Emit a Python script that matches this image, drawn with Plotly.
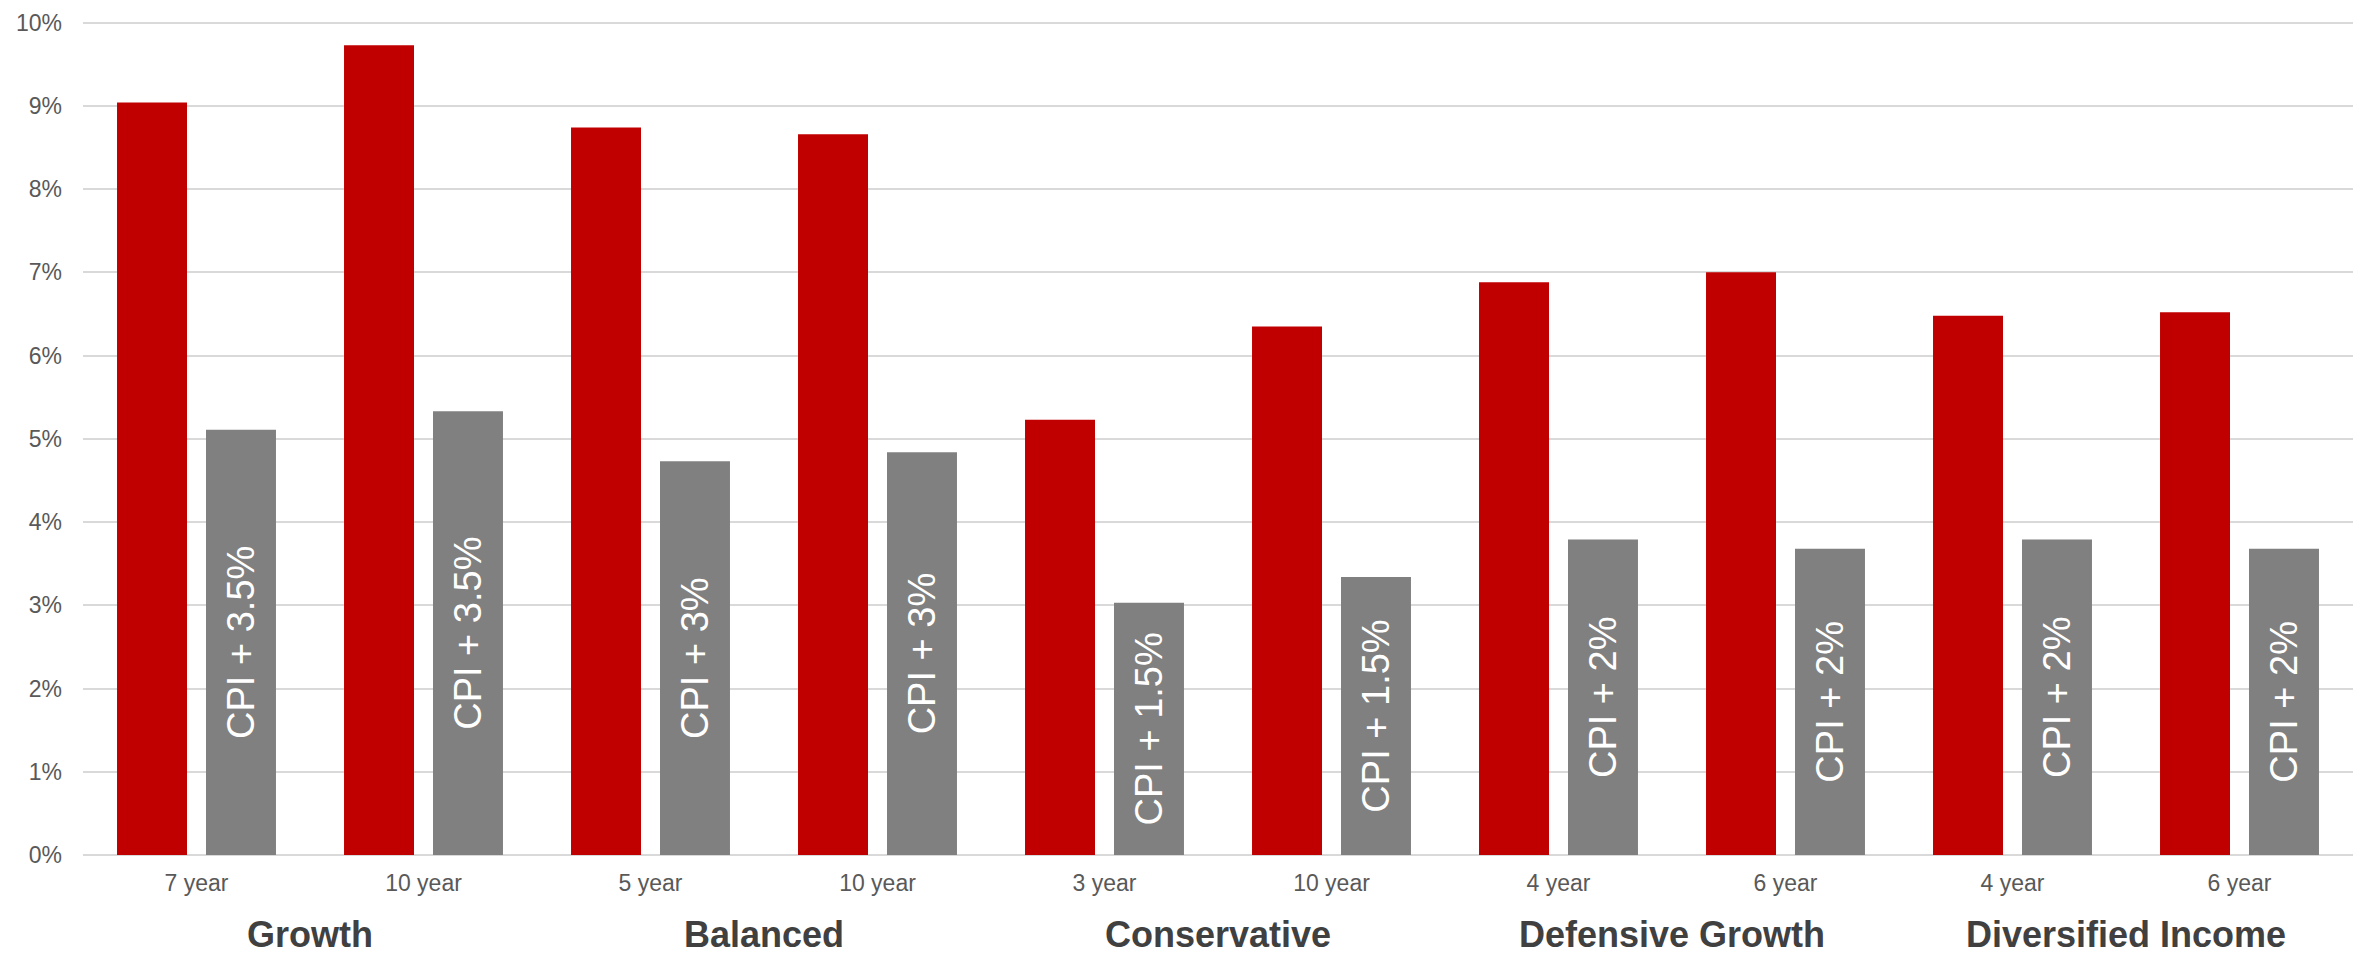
import plotly.graph_objects as go

# Portfolio groups and the horizon shown under each pair of bars
groups = ["Growth", "Balanced", "Conservative", "Defensive Growth", "Diversified Income"]
horizons = ["7 year", "10 year", "5 year", "10 year", "3 year",
            "10 year", "4 year", "6 year", "4 year", "6 year"]

# Annualised returns (fraction) per horizon
returns = [0.0904, 0.0973, 0.0874, 0.0866, 0.0523,
           0.0635, 0.0688, 0.0700, 0.0648, 0.0652]
# CPI-plus objective (fraction) per horizon
objectives = [0.0511, 0.0533, 0.0473, 0.0484, 0.0303,
              0.0334, 0.0379, 0.0368, 0.0379, 0.0368]
objective_labels = ["CPI + 3.5%", "CPI + 3.5%", "CPI + 3%", "CPI + 3%", "CPI + 1.5%",
                    "CPI + 1.5%", "CPI + 2%", "CPI + 2%", "CPI + 2%", "CPI + 2%"]

FONT = "Liberation Sans, Arial, sans-serif"
x = list(range(len(horizons)))

fig = go.Figure()
fig.add_trace(go.Bar(
    x=x, y=returns, name="Return",
    marker=dict(color="#C00000", line=dict(width=0)),
    hoverinfo="skip",
))
fig.add_trace(go.Bar(
    x=x, y=objectives, name="Objective",
    marker=dict(color="#808080", line=dict(width=0)),
    text=objective_labels,
    textposition="inside",
    insidetextanchor="middle",
    textangle=-90,
    constraintext="none",
    textfont=dict(family=FONT, size=38, color="white"),
    hoverinfo="skip",
))

# Group names centred under each pair of horizons
for i, g in enumerate(groups):
    fig.add_annotation(
        x=2 * i + 0.5, xref="x",
        y=-0.095, yref="paper",
        text=f"<b>{g}</b>", showarrow=False,
        xanchor="center", yanchor="middle", borderpad=0,
        font=dict(family=FONT, size=36, color="#404040"),
    )

fig.update_layout(
    width=2361, height=955,
    margin=dict(l=83, r=8, t=21, b=100),
    paper_bgcolor="white", plot_bgcolor="white",
    barmode="group", bargap=0.216, bargroupgap=0.2135,
    showlegend=False,
    font=dict(family=FONT, color="#595959"),
    xaxis=dict(
        tickmode="array", tickvals=x, ticktext=horizons,
        range=[-0.5, len(horizons) - 0.5],
        showgrid=False, showline=False, zeroline=False,
        ticks="", ticklabelstandoff=12,
        tickfont=dict(family=FONT, size=23, color="#595959"),
    ),
    yaxis=dict(
        range=[0, 0.1002], dtick=0.01, tickformat=".0%",
        showgrid=True, gridcolor="#D9D9D9", gridwidth=1.5,
        zeroline=True, zerolinecolor="#D9D9D9", zerolinewidth=1.5,
        showline=False, ticks="", ticklabelstandoff=20,
        tickfont=dict(family=FONT, size=23, color="#595959"),
    ),
)

fig.write_html("out.html")
